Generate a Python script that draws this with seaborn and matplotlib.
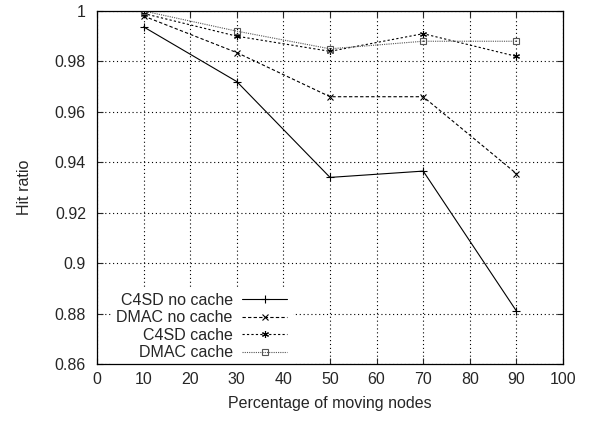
import pandas as pd
import numpy as np
import matplotlib
matplotlib.use("Agg")
import matplotlib.pyplot as plt
import seaborn as sns

# percentage of moving nodes
moving = [10, 30, 50, 70, 90]
c4sd_no_cache = [0.9937, 0.972, 0.934, 0.9365, 0.881]
dmac_no_cache = [0.998, 0.9835, 0.966, 0.966, 0.9355]
c4sd_cache = [0.999, 0.990, 0.984, 0.991, 0.982]
dmac_cache = [1.0, 0.992, 0.985, 0.988, 0.988]

series_names = ["C4SD no cache", "DMAC no cache", "C4SD cache", "DMAC cache"]
x_ticks = list(range(0, 101, 10))
y_ticks = [0.86, 0.88, 0.9, 0.92, 0.94, 0.96, 0.98, 1.0]
y_tick_labels = ["0.86", "0.88", "0.9", "0.92", "0.94", "0.96", "0.98", "1"]

sns.set_style("ticks")
plt.rcParams['font.family'] = ['Liberation Sans', 'DejaVu Sans']

fig = plt.figure(figsize=(5.97, 4.21), dpi=100)
ax = fig.add_axes([0.1625, 0.1354, 0.7806, 0.8385])

colors = ["black", "black", "black", "#555555"]
marks = ["+", "x", (6, 2, 0), "s"]
msizes = [6, 4.5, 5, 4.5]
lstyles = ["-", (0, (3, 2)), (0, (2, 2)), (0, (1, 1))]

for name, vals, c, m, ms, ls in zip(series_names,
                                    [c4sd_no_cache, dmac_no_cache, c4sd_cache, dmac_cache],
                                    colors, marks, msizes, lstyles):
    df = pd.DataFrame({"x": moving, "y": vals})
    sns.lineplot(data=df, x="x", y="y", ax=ax, label=name, color=c,
                 linewidth=0.8)
    line = ax.get_lines()[-1]
    line.set_linestyle(ls)
    line.set_marker(m)
    line.set_markersize(ms)
    line.set_markeredgewidth(0.8)
    line.set_markeredgecolor(c)
    line.set_markerfacecolor("none")

ax.set_xlim(0, 100)
ax.set_ylim(0.86, 1.0)
ax.set_xticks(x_ticks)
ax.set_yticks(y_ticks)
ax.set_yticklabels(y_tick_labels)
ax.tick_params(direction="in", top=True, right=True, labelsize=11.5, length=4)
ax.tick_params(axis="y", pad=8)
ax.tick_params(axis="x", pad=6)
ax.grid(True, linestyle=(0, (1, 2.5)), color="black", linewidth=0.8)
for s in ax.spines.values():
    s.set_linewidth(0.9)
    s.set_color("black")
ax.set_xlabel("Percentage of moving nodes", fontsize=11.5, labelpad=6)
ax.set_ylabel("Hit ratio", fontsize=11.5, labelpad=16)

leg = ax.legend(loc="lower right", bbox_to_anchor=(0.425, -0.012),
                markerfirst=False, frameon=True, fancybox=False,
                edgecolor="white", framealpha=1, fontsize=11.5,
                handlelength=2.8, labelspacing=0.15, handletextpad=0.6,
                borderpad=0.3, borderaxespad=0.2)
leg.set_zorder(2.2)

plt.savefig("out.png", dpi=100)
